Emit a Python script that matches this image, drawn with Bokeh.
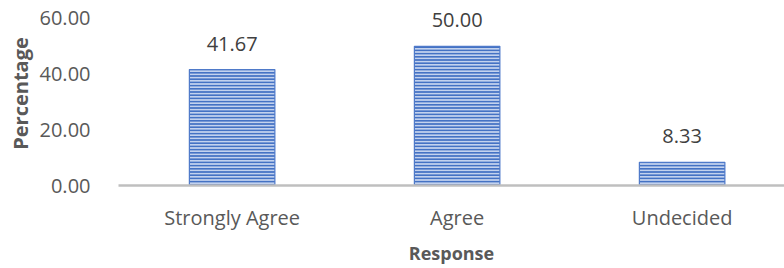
from bokeh.plotting import figure
from bokeh.models import ColumnDataSource, Range1d, FixedTicker, NumeralTickFormatter
from bokeh.core.properties import value
from bokeh.embed import file_html
from bokeh.resources import INLINE

categories = ["Strongly Agree", "Agree", "Undecided"]
percentages = [41.67, 50.00, 8.33]
y_ticks = [0, 20, 40, 60]

xs = [i + 0.5 for i in range(len(categories))]
labels = ["%.2f" % v for v in percentages]
src = ColumnDataSource(dict(x=xs, top=percentages, label=labels))

FONT = "Open Sans"

p = figure(width=784, height=268, output_backend="svg", toolbar_location=None,
           x_range=Range1d(-0.005, 2.955), y_range=Range1d(0, 66.1),
           min_border_left=118, min_border_right=0, min_border_top=1, min_border_bottom=83)

p.vbar(x="x", top="top", width=0.38, source=src,
       fill_color="#C3D2EE", line_color="#4F7AC9", line_width=1.2,
       hatch_pattern="horizontal_line", hatch_color="#4472C4",
       hatch_scale=3.2, hatch_weight=2.0)

p.text(x="x", y="top", text="label", source=src, text_align="center",
       text_baseline="middle", y_offset=-26, text_color="#404040",
       text_font=value(FONT), text_font_size="20px")

p.xaxis.ticker = FixedTicker(ticks=xs)
p.xaxis.major_label_overrides = {x: c for x, c in zip(xs, categories)}
p.yaxis.ticker = FixedTicker(ticks=y_ticks)
p.yaxis.formatter = NumeralTickFormatter(format="0.00")

for ax in (p.xaxis, p.yaxis):
    ax.major_tick_line_color = None
    ax.minor_tick_line_color = None
    ax.major_label_text_font = FONT
    ax.major_label_text_font_size = "20px"
    ax.major_label_text_color = "#595959"
    ax.axis_label_text_font = FONT
    ax.axis_label_text_font_style = "bold"
    ax.axis_label_text_color = "#595959"

p.xaxis.axis_label_text_font_size = "18px"
p.yaxis.axis_label_text_font_size = "20px"
p.xaxis.axis_line_color = "#BFBFBF"
p.xaxis.axis_line_width = 2.5
p.yaxis.axis_line_color = None
p.xaxis.axis_label = "Response"
p.yaxis.axis_label = "Percentage"
p.xaxis.major_label_standoff = 12
p.xaxis.axis_label_standoff = 7
p.yaxis.major_label_standoff = 22
p.yaxis.axis_label_standoff = 3

p.xgrid.grid_line_color = None
p.ygrid.grid_line_color = None
p.outline_line_color = None

open("out.html", "w").write(file_html(p, INLINE))
